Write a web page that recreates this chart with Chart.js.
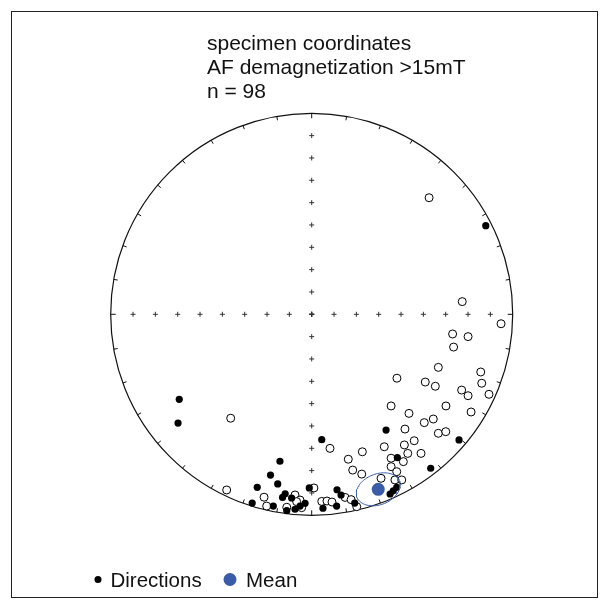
<!DOCTYPE html>
<html>
<head>
<meta charset="utf-8">
<script src="https://cdn.jsdelivr.net/npm/chart.js@4.4.1/dist/chart.umd.min.js"></script>
<style>
html, body { margin: 0; padding: 0; background: #fff; }
#wrap { width: 608px; height: 608px; }
</style>
</head>
<body>
<div id="wrap"><canvas id="stereo" width="608" height="608"></canvas></div>
<script>
// projected directions, unit circle = horizontal plane, r = (90 - |inc|) / 90
const upperHemisphere = [
    [0.584, 0.580], [0.749, 0.063], [0.942, -0.047], [0.701, -0.098], [0.778, -0.111],
    [0.706, -0.163], [0.630, -0.264], [0.424, -0.318], [0.841, -0.287], [0.565, -0.337],
    [0.615, -0.358], [0.846, -0.343], [0.746, -0.377], [0.778, -0.405], [0.882, -0.398],
    [0.395, -0.456], [0.484, -0.493], [0.668, -0.456], [0.560, -0.539], [0.605, -0.521],
    [0.630, -0.592], [0.667, -0.584], [0.464, -0.571], [0.361, -0.659], [0.461, -0.650],
    [0.510, -0.629], [0.252, -0.684], [0.478, -0.692], [0.544, -0.692], [0.395, -0.716],
    [0.456, -0.733], [0.182, -0.721], [0.395, -0.758], [0.204, -0.775], [0.249, -0.795],
    [0.423, -0.783], [0.345, -0.816], [0.414, -0.824], [0.448, -0.824], [0.793, -0.486],
    [-0.403, -0.517], [0.091, -0.667], [-0.423, -0.874], [-0.237, -0.910], [-0.224, -0.954],
    [-0.083, -0.899], [-0.058, -0.924], [-0.124, -0.960], [0.011, -0.864], [0.050, -0.931],
    [0.076, -0.929], [0.101, -0.934], [0.166, -0.911], [0.196, -0.922], [0.224, -0.957],
    [-0.050, -0.962], [-0.075, -0.932]
];
const lowerHemisphere = [
    [0.866, 0.441], [-0.659, -0.423], [-0.665, -0.541], [0.050, -0.624], [0.370, -0.576],
    [0.733, -0.625], [0.592, -0.766], [0.426, -0.713], [-0.158, -0.731], [-0.205, -0.800],
    [-0.169, -0.844], [-0.271, -0.861], [-0.012, -0.864], [-0.132, -0.893], [-0.100, -0.914],
    [-0.145, -0.911], [-0.296, -0.939], [-0.191, -0.954], [-0.058, -0.954], [-0.033, -0.940],
    [-0.083, -0.970], [-0.124, -0.977], [0.056, -0.965], [0.126, -0.873], [0.146, -0.899],
    [0.214, -0.939], [0.124, -0.954], [0.423, -0.861], [0.406, -0.878], [0.390, -0.894]
];
const meanDirection = [0.331, -0.871];
const alpha95 = 6.9;

const titleLines = ['specimen coordinates', 'AF demagnetization >15mT', 'n = 98'];
const legendLabels = ['Directions', 'Mean'];

const inclinationSteps = [90, 80, 70, 60, 50, 40, 30, 20, 10];
const declinationTicks = [];
for (let d = 0; d < 360; d += 10) declinationTicks.push(d);

const blue = '#3a5ba8';
const font = '"Liberation Sans", Arial, sans-serif';
const rad = Math.PI / 180;

function toPoints(list) {
    return list.map(p => ({ x: p[0], y: p[1] }));
}

// graticule crosses along both axes
const gridMarks = [];
inclinationSteps.forEach(inc => {
    const r = (90 - inc) / 90;
    gridMarks.push({ x: r, y: 0 }, { x: -r, y: 0 }, { x: 0, y: r }, { x: 0, y: -r });
});

// small circle of confidence around the mean, projected the same way
function conePoints(center, a95) {
    const colat0 = Math.hypot(center[0], center[1]) * 90 * rad;
    const dec0 = Math.atan2(center[0], center[1]);
    const m = [Math.sin(colat0) * Math.cos(dec0), Math.sin(colat0) * Math.sin(dec0), Math.cos(colat0)];
    const ul = Math.hypot(m[1], m[0]);
    const u = [m[1] / ul, -m[0] / ul, 0];
    const v = [m[1] * u[2] - m[2] * u[1], m[2] * u[0] - m[0] * u[2], m[0] * u[1] - m[1] * u[0]];
    const a = a95 * rad;
    const pts = [];
    for (let phi = 0; phi <= 360; phi += 4) {
        const c = Math.cos(phi * rad), s = Math.sin(phi * rad);
        const p = [0, 1, 2].map(i => Math.cos(a) * m[i] + Math.sin(a) * (c * u[i] + s * v[i]));
        const r = Math.acos(p[2]) / (Math.PI / 2);
        const dec = Math.atan2(p[1], p[0]);
        pts.push({ x: r * Math.sin(dec), y: r * Math.cos(dec) });
    }
    return pts;
}

const netPlugin = {
    id: 'net',
    beforeDatasetsDraw(chart) {
        const ctx = chart.ctx;
        const xs = chart.scales.x, ys = chart.scales.y;
        const cx = xs.getPixelForValue(0), cy = ys.getPixelForValue(0);
        const R = xs.getPixelForValue(1) - cx;
        ctx.save();
        ctx.strokeStyle = '#111';
        ctx.lineWidth = 1.2;
        ctx.beginPath();
        ctx.arc(cx, cy, R, 0, Math.PI * 2);
        ctx.stroke();
        ctx.lineWidth = 1;
        declinationTicks.forEach(d => {
            const sx = Math.sin(d * rad), sy = -Math.cos(d * rad);
            const len = d % 90 === 0 ? 5 : 4;
            ctx.beginPath();
            ctx.moveTo(cx + sx * R, cy + sy * R);
            ctx.lineTo(cx + sx * (R - len), cy + sy * (R - len));
            ctx.stroke();
        });
        ctx.restore();
    },
    afterDraw(chart) {
        const ctx = chart.ctx;
        ctx.save();
        ctx.strokeStyle = '#222';
        ctx.lineWidth = 1;
        ctx.strokeRect(11.5, 11.5, 586, 586);

        ctx.fillStyle = '#111';
        ctx.font = '21px ' + font;
        ctx.textBaseline = 'alphabetic';
        titleLines.forEach((t, i) => ctx.fillText(t, 207, 50 + i * 24));

        // legend
        ctx.font = '20.5px ' + font;
        ctx.beginPath();
        ctx.arc(98, 579.5, 3.5, 0, Math.PI * 2);
        ctx.fillStyle = '#000';
        ctx.fill();
        ctx.fillStyle = '#111';
        ctx.fillText(legendLabels[0], 110.5, 586.5);
        ctx.beginPath();
        ctx.arc(230, 579.5, 6.5, 0, Math.PI * 2);
        ctx.fillStyle = blue;
        ctx.fill();
        ctx.fillStyle = '#111';
        ctx.fillText(legendLabels[1], 246, 586.5);
        ctx.restore();
    }
};

new Chart(document.getElementById('stereo'), {
    type: 'scatter',
    data: {
        datasets: [
            {
                label: 'Mean',
                data: toPoints([meanDirection]),
                pointRadius: 6.5,
                pointBackgroundColor: blue,
                pointBorderWidth: 0
            },
            {
                label: 'a95',
                data: conePoints(meanDirection, alpha95),
                showLine: true,
                pointRadius: 0,
                borderColor: blue,
                borderWidth: 1,
                tension: 0
            },
            {
                label: 'Lower',
                data: toPoints(lowerHemisphere),
                pointRadius: 3.6,
                pointBackgroundColor: '#000',
                pointBorderWidth: 0
            },
            {
                label: 'Upper',
                data: toPoints(upperHemisphere),
                pointRadius: 4,
                pointBackgroundColor: '#fff',
                pointBorderColor: '#000',
                pointBorderWidth: 1
            },
            {
                label: 'Grid',
                data: gridMarks,
                pointStyle: 'cross',
                pointRadius: 2.5,
                pointBorderColor: '#333',
                pointBorderWidth: 1
            }
        ]
    },
    options: {
        responsive: false,
        animation: false,
        devicePixelRatio: 1,
        layout: {
            padding: { left: 110.7, right: 95.3, top: 113.3, bottom: 92.7 }
        },
        scales: {
            x: { type: 'linear', min: -1, max: 1, display: false },
            y: { type: 'linear', min: -1, max: 1, display: false }
        },
        plugins: {
            legend: { display: false },
            tooltip: { enabled: false }
        }
    },
    plugins: [netPlugin]
});
</script>
</body>
</html>
